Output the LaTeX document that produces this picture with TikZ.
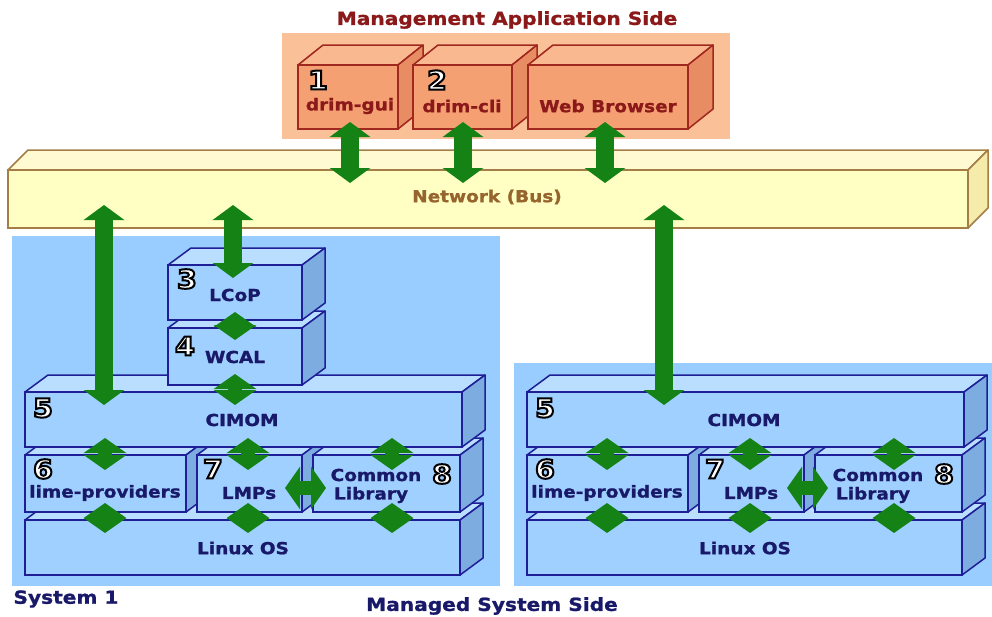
\documentclass[tikz,border=0pt]{standalone}
\usepackage{fontspec}
\newfontfamily\lab[FakeStretch=1.12,FakeBold=1.2]{DejaVu Sans}
\newfontfamily\digitfont[FakeStretch=1.1]{DejaVu Sans}
\usetikzlibrary{arrows.meta}
\definecolor{orgbg}{RGB}{250,192,152}
\definecolor{orgfront}{RGB}{245,160,115}
\definecolor{orgtop}{RGB}{249,184,144}
\definecolor{orgside}{RGB}{232,140,100}
\definecolor{orgline}{RGB}{160,40,30}
\definecolor{ored}{RGB}{140,25,25}
\definecolor{busfront}{RGB}{255,255,195}
\definecolor{bustop}{RGB}{255,250,210}
\definecolor{busside}{RGB}{245,235,170}
\definecolor{busline}{RGB}{165,125,70}
\definecolor{bustext}{RGB}{150,100,45}
\definecolor{blubg}{RGB}{153,204,255}
\definecolor{blufront}{RGB}{160,208,255}
\definecolor{blutop}{RGB}{185,222,255}
\definecolor{bluside}{RGB}{125,172,225}
\definecolor{bluline}{RGB}{30,30,150}
\definecolor{navytext}{RGB}{25,25,105}
\definecolor{grn}{RGB}{20,130,20}
\newcommand\outlined[1]{{\color{white}\special{pdf:literal direct 2 Tr 2 w 0 0 0 RG 1 1 1 rg}#1\special{pdf:literal direct 0 Tr}}}
\tikzset{
  lbl/.style={font=\lab\bfseries\fontsize{16.5}{18}\selectfont, inner sep=0pt},
  blbl/.style={lbl, text=navytext},
  olbl/.style={lbl, text=ored},
  digit/.style={font=\digitfont\bfseries\fontsize{26}{28}\selectfont, inner sep=0pt},
  bigarrow/.style={draw=grn, line width=18pt,
    {Triangle[width=40pt,length=15pt]}-{Triangle[width=40pt,length=15pt]}},
  smallarrow/.style={draw=grn, line width=14pt,
    {Triangle[width=42pt,length=15pt]}-{Triangle[width=42pt,length=15pt]}},
}
% 3D box: name, x1, y1, x2, y2, dx, dy, colour prefix
\newcommand\cubebox[8]{%
  \filldraw[fill=#8top, draw=#8line, line width=1.5pt, line join=round]
    (#2,#3) -- ({#2+#6},{#3-#7}) -- ({#4+#6},{#3-#7}) -- (#4,#3) -- cycle;
  \filldraw[fill=#8side, draw=#8line, line width=1.5pt, line join=round]
    (#4,#3) -- ({#4+#6},{#3-#7}) -- ({#4+#6},{#5-#7}) -- (#4,#5) -- cycle;
  \node[draw=#8line, fill=#8front, line width=1.5pt, inner sep=0pt, outer sep=0pt,
    anchor=north west, minimum width={(#4-#2)*1pt}, minimum height={(#5-#3)*1pt}]
    (#1) at (#2,#3) {};
}
% hollow digit: name, position, digit
\newcommand\hollow[3]{%
  \node[digit] (#1) at (#2) {\outlined{#3}};
}
% lower stack of a managed system: suffix, x shift
\newcommand\stackboxes[2]{%
  \begin{scope}[xshift=#2pt]
    \cubebox{linux#1}{25}{520}{460}{575}{23}{17}{blu}
    \cubebox{lime#1}{25}{455}{186}{512}{23}{17}{blu}
    \cubebox{lmps#1}{197}{455}{302}{512}{23}{17}{blu}
    \cubebox{common#1}{313}{455}{460}{512}{23}{17}{blu}
    \cubebox{cimom#1}{25}{392}{462}{447}{23}{17}{blu}
    \node[blbl] (tcimom#1) at (242,420) {CIMOM};
    \node[blbl] (tlime#1) at (105,493) {lime-providers};
    \node[blbl] (tlmps#1) at (249,493) {LMPs};
    \node[blbl] (tcommon#1) at (376,475) {Common};
    \node[blbl] (tlibrary#1) at (371,495) {Library};
    \node[blbl] (tlinux#1) at (243,548) {Linux OS};
    \hollow{nfive#1}{43,408}{5}
    \hollow{nsix#1}{43,469}{6}
    \hollow{nseven#1}{213,469}{7}
    \hollow{neight#1}{442,474}{8}
    \coordinate (ca#1) at (105,438); \coordinate (la#1) at (105,470);
    \coordinate (cb#1) at (248,438); \coordinate (mb#1) at (248,470);
    \coordinate (cc#1) at (392,438); \coordinate (kc#1) at (392,470);
    \coordinate (lx#1) at (105,503); \coordinate (xl#1) at (105,533);
    \coordinate (mx#1) at (248,503); \coordinate (xm#1) at (248,533);
    \coordinate (kx#1) at (392,503); \coordinate (xk#1) at (392,533);
    \coordinate (ml#1) at (285,488); \coordinate (km#1) at (326,488);
  \end{scope}
}
\newcommand\stackarrows[1]{%
  \draw[smallarrow] (ca#1) -- (la#1);
  \draw[smallarrow] (cb#1) -- (mb#1);
  \draw[smallarrow] (cc#1) -- (kc#1);
  \draw[smallarrow] (lx#1) -- (xl#1);
  \draw[smallarrow] (mx#1) -- (xm#1);
  \draw[smallarrow] (kx#1) -- (xk#1);
  \draw[smallarrow] (ml#1) -- (km#1);
}
\begin{document}
\begin{tikzpicture}[x=1pt,y=-1pt]
\useasboundingbox[fill=white] (0,0) rectangle (992,616);
% management application side
\fill[orgbg] (282,33) rectangle (730,139);
\node[lbl, font=\lab\bfseries\fontsize{18}{20}\selectfont, text=ored] (title) at (507,20) {Management Application Side};
\cubebox{gui}{298}{65}{398}{129}{25}{20}{org}
\cubebox{cli}{413}{65}{512}{129}{25}{20}{org}
\cubebox{web}{528}{65}{688}{129}{25}{20}{org}
\hollow{none}{318,80}{1}
\hollow{ntwo}{437,80}{2}
\node[olbl] (tgui) at (350,106) {drim-gui};
\node[olbl] (tcli) at (462,106) {drim-cli};
\node[olbl] (tweb) at (608,106) {Web Browser};
% network bus
\cubebox{bus}{8}{170}{968}{228}{20}{20}{bus}
\node[lbl, text=bustext] (tbus) at (487,197) {Network (Bus)};
% managed systems
\fill[blubg] (12,236) rectangle (500,586);
\fill[blubg] (514,363) rectangle (992,586);
\stackboxes{A}{0}
\stackboxes{B}{502}
\cubebox{wcal}{168}{328}{302}{385}{23}{17}{blu}
\cubebox{lcop}{168}{265}{302}{320}{23}{17}{blu}
\node[blbl] (tlcop) at (235,295) {LCoP};
\node[blbl] (twcal) at (235,357) {WCAL};
\hollow{nthree}{187,279}{3}
\hollow{nfour}{185,346}{4}
\node[lbl, font=\lab\bfseries\fontsize{18}{20}\selectfont, text=navytext] (sys1) at (66,599) {System 1};
\node[lbl, font=\lab\bfseries\fontsize{18}{20}\selectfont, text=navytext] (managed) at (492,606) {Managed System Side};
% connector end points
\coordinate (g1) at (350,122); \coordinate (g2) at (350,183);
\coordinate (c1) at (463,122); \coordinate (c2) at (463,183);
\coordinate (w1) at (605,122); \coordinate (w2) at (605,183);
\coordinate (b1) at (104,205); \coordinate (b2) at (104,405);
\coordinate (p1) at (233,205); \coordinate (p2) at (233,278);
\coordinate (q1) at (664,205); \coordinate (q2) at (664,405);
\coordinate (r1) at (235,312); \coordinate (r2) at (235,340);
\coordinate (s1) at (235,374); \coordinate (s2) at (235,405);
% arrows
\draw[bigarrow] (g1) -- (g2);
\draw[bigarrow] (c1) -- (c2);
\draw[bigarrow] (w1) -- (w2);
\draw[bigarrow] (b1) -- (b2);
\draw[bigarrow] (p1) -- (p2);
\draw[bigarrow] (q1) -- (q2);
\draw[smallarrow] (r1) -- (r2);
\draw[smallarrow] (s1) -- (s2);
\stackarrows{A}
\stackarrows{B}
\end{tikzpicture}
\end{document}
